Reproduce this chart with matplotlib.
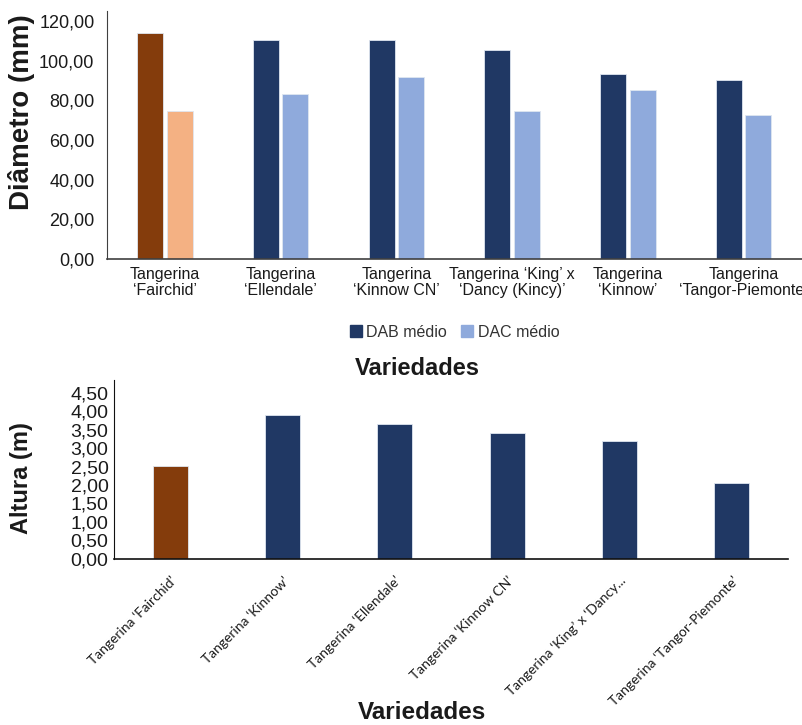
import numpy as np
from matplotlib import pyplot as plt
from matplotlib.patches import Patch

plt.rcParams["font.family"] = ["Liberation Sans", "DejaVu Sans"]

# Diâmetro médio das copas (mm)
variedades_diam = [
    "Tangerina\n\u2018Fairchid\u2019",
    "Tangerina\n\u2018Ellendale\u2019",
    "Tangerina\n\u2018Kinnow CN\u2019",
    "Tangerina \u2018King\u2019 x\n\u2018Dancy (Kincy)\u2019",
    "Tangerina\n\u2018Kinnow\u2019",
    "Tangerina\n\u2018Tangor-Piemonte\u2019",
]
dab_medio = [113.8, 110.4, 110.4, 105.5, 93.2, 90.0]
dac_medio = [74.7, 83.4, 91.9, 74.7, 85.1, 72.8]

# Altura das plantas (m)
variedades_alt = [
    "Tangerina \u2018Fairchid\u2019",
    "Tangerina \u2018Kinnow\u2019",
    "Tangerina \u2018Ellendale\u2019",
    "Tangerina \u2018Kinnow CN\u2019",
    "Tangerina \u2018King\u2019 x \u2018Dancy...",
    "Tangerina \u2018Tangor-Piemonte\u2019",
]
altura = [2.51, 3.89, 3.66, 3.41, 3.18, 2.05]

NAVY = "#203864"
LIGHT = "#8FAADC"
BROWN = "#843C0C"
PEACH = "#F4B183"

fig = plt.figure(figsize=(8.02, 7.25), dpi=100)

# --- grafico 1: diametro ---
ax1 = fig.add_axes([0.1334, 0.6428, 0.866, 0.342])
x = np.arange(len(variedades_diam))
w = 0.224
gap = 0.03
cor_dab = [BROWN] + [NAVY] * (len(x) - 1)
cor_dac = [PEACH] + [LIGHT] * (len(x) - 1)
ax1.bar(x - (w + gap) / 2, dab_medio, w, color=cor_dab, edgecolor="#dfe6f0", linewidth=0.6)
ax1.bar(x + (w + gap) / 2, dac_medio, w, color=cor_dac, edgecolor="#dfe6f0", linewidth=0.6)
ax1.set_xlim(-0.5, 5.5)
ax1.set_ylim(0, 125)
ax1.set_yticks(np.arange(0, 121, 20))
ax1.set_yticklabels([f"{v:.2f}".replace(".", ",") for v in np.arange(0, 121, 20)], fontsize=13)
ax1.set_xticks(x)
ax1.set_xticklabels(variedades_diam, fontsize=11.5, linespacing=1.05)
ax1.tick_params(axis="both", length=0, colors="#1a1a1a")
ax1.tick_params(axis="y", pad=9)
ax1.tick_params(axis="x", pad=6)
for s in ["top", "right"]:
    ax1.spines[s].set_visible(False)
ax1.spines["left"].set_color("#404040")
ax1.spines["bottom"].set_color("#404040")
ax1.spines["bottom"].set_linewidth(1.2)

fig.text(0.027, 0.845, "Diâmetro (mm)", rotation=90, fontsize=20, fontweight="bold",
         ha="center", va="center", color="#1a1a1a")
fig.legend(handles=[Patch(color=NAVY, label="DAB médio"), Patch(color=LIGHT, label="DAC médio")],
           loc="center", bbox_to_anchor=(0.567, 0.542), ncol=2, frameon=False, fontsize=11.5,
           handlelength=0.75, handleheight=0.75, handletextpad=0.3, columnspacing=0.9,
           labelcolor="#333333")
fig.text(0.521, 0.492, "Variedades", fontsize=17, fontweight="bold", ha="center", va="center",
         color="#1a1a1a")

# --- grafico 2: altura ---
ax2 = fig.add_axes([0.1421, 0.2290, 0.8404, 0.2469])
x2 = np.arange(len(variedades_alt))
cor_alt = [BROWN] + [NAVY] * (len(x2) - 1)
ax2.bar(x2, altura, 0.31, color=cor_alt, edgecolor="#dfe6f0", linewidth=0.6)
ax2.set_xlim(-0.5, 5.5)
ax2.set_ylim(0, 4.84)
yt = np.arange(0, 4.51, 0.5)
ax2.set_yticks(yt)
ax2.set_yticklabels([f"{v:.2f}".replace(".", ",") for v in yt], fontsize=14, color="#1a1a1a")
ax2.set_xticks(x2)
ax2.set_xticklabels(variedades_alt, fontsize=10, rotation=45, ha="right", rotation_mode="anchor",
                    family=["Lato", "DejaVu Sans"], color="#1a1a1a")
ax2.tick_params(axis="both", length=0)
ax2.tick_params(axis="y", pad=4)
ax2.tick_params(axis="x", pad=11)
for s in ["top", "right"]:
    ax2.spines[s].set_visible(False)
ax2.spines["left"].set_color("#111111")
ax2.spines["bottom"].set_color("#111111")
ax2.spines["bottom"].set_linewidth(1.2)

fig.text(0.027, 0.34, "Altura (m)", rotation=90, fontsize=17, fontweight="bold",
         ha="center", va="center", color="#1a1a1a")
fig.text(0.526, 0.017, "Variedades", fontsize=17.5, fontweight="bold", ha="center", va="center",
         color="#1a1a1a")

fig.savefig("out.png", dpi=100, facecolor="white")
